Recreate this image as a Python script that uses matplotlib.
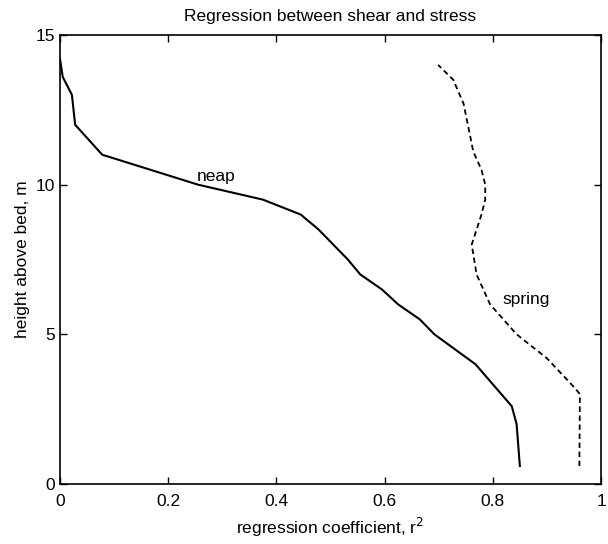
import matplotlib
matplotlib.use("Agg")
import matplotlib.pyplot as plt

plt.rcParams['font.family'] = ['Liberation Sans', 'DejaVu Sans']

# neap tide profile: r^2 vs height above bed
neap_height = [0.6, 2.0, 2.6, 4.0, 5.0, 5.5, 6.0, 6.5, 7.0, 7.5, 8.0, 8.5,
               9.0, 9.5, 10.0, 11.0, 12.0, 13.0, 13.6, 14.2]
neap_r2 = [0.850, 0.844, 0.835, 0.768, 0.692, 0.665, 0.625, 0.595, 0.555,
           0.532, 0.505, 0.478, 0.445, 0.375, 0.255, 0.078, 0.028, 0.022,
           0.005, 0.0]

# spring tide profile
spring_height = [0.6, 3.0, 3.2, 4.2, 5.0, 6.0, 7.0, 8.0, 9.0, 9.5, 10.0,
                 10.5, 11.1, 12.7, 13.5, 14.0]
spring_r2 = [0.960, 0.961, 0.952, 0.900, 0.844, 0.795, 0.770, 0.761, 0.779,
             0.786, 0.786, 0.779, 0.764, 0.746, 0.727, 0.699]

fs = 12.5

fig = plt.figure(figsize=(6.08, 5.44), dpi=100)
ax = fig.add_axes([0.0987, 0.1103, 0.8898, 0.8254])

ax.plot(neap_r2, neap_height, color='black', lw=1.5)
ax.plot(spring_r2, spring_height, color='black', lw=1.3, ls=(0, (3, 2)))

ax.text(0.289, 10.27, 'neap', fontsize=fs, ha='center', va='center')
ax.text(0.862, 6.15, 'spring', fontsize=fs, ha='center', va='center')

ax.set_xlim(0, 1)
ax.set_ylim(0, 15)
ax.set_xticks([0, 0.2, 0.4, 0.6, 0.8, 1])
ax.set_xticklabels(['0', '0.2', '0.4', '0.6', '0.8', '1'])
ax.set_yticks([0, 5, 10, 15])
ax.tick_params(direction='in', top=True, right=True, labelsize=fs,
               length=5, width=1)
ax.tick_params(axis='x', pad=7)
for s in ax.spines.values():
    s.set_linewidth(1.2)

ax.set_title('Regression between shear and stress', fontsize=fs, pad=10)
ax.set_xlabel('regression coefficient, r$^2$', fontsize=fs, labelpad=5)
ax.set_ylabel('height above bed, m', fontsize=fs, labelpad=4)

fig.savefig('out.png', dpi=100)
